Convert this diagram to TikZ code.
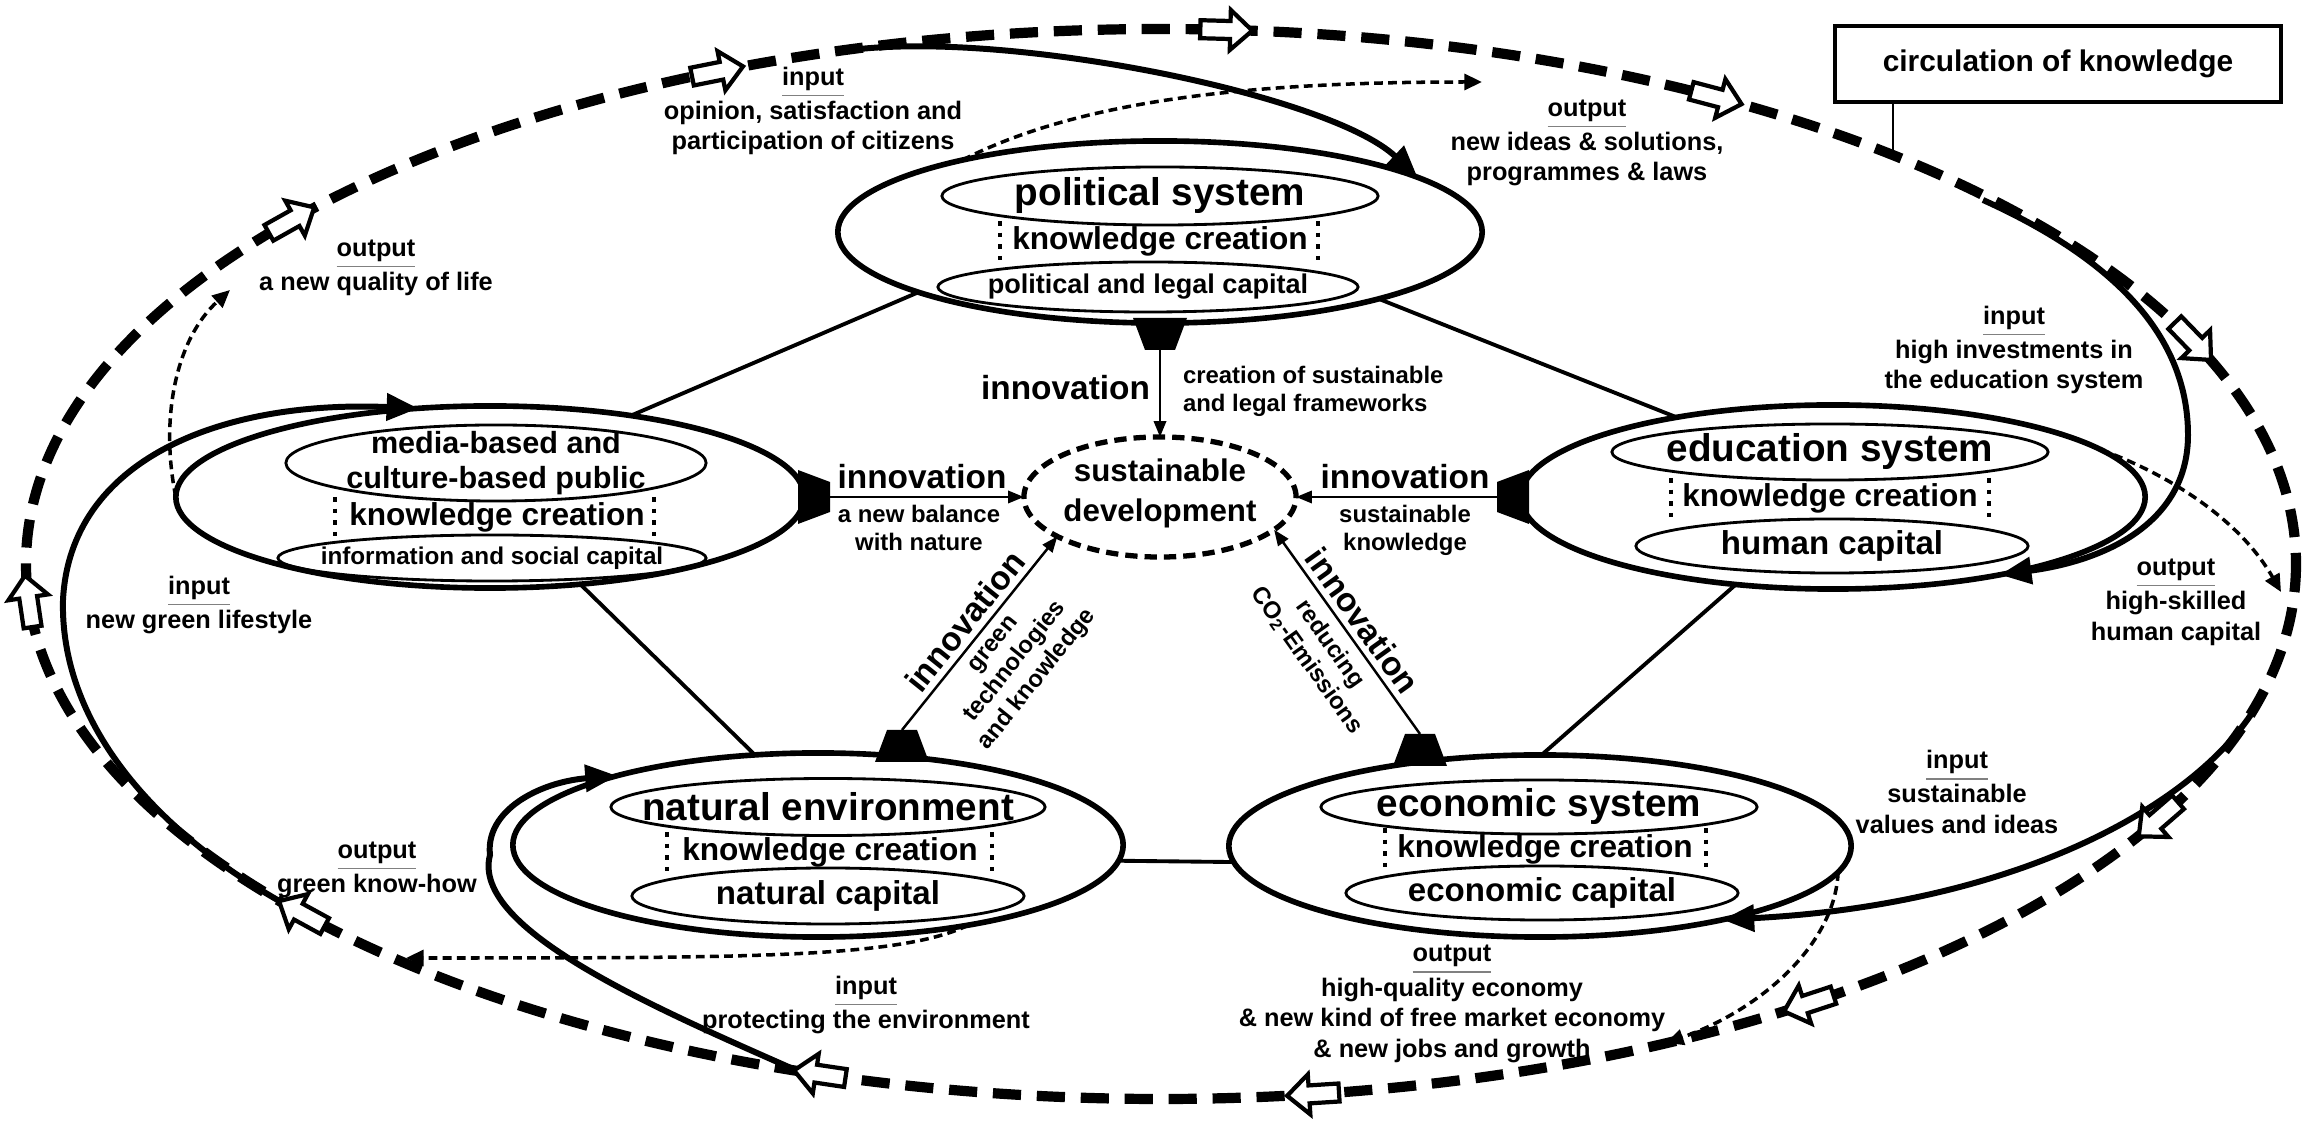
\documentclass[tikz,border=0pt]{standalone}
\usepackage{fontspec}
\setmainfont{Liberation Sans}
\usetikzlibrary{arrows.meta,shapes.geometric}
\newcommand\grayul[1]{{\color{gray}\underline{\color{black}#1}}}
\begin{document}
\begin{tikzpicture}[x=0.01cm,y=-0.01cm,
  every node/.style={inner sep=0pt,outer sep=0pt},
  sysouter/.style={ellipse,draw,line width=1.6pt},
  sysinner/.style={ellipse,draw,line width=0.8pt},
  ttl/.style={font=\bfseries\fontsize{11}{12}\selectfont},
  kc/.style={font=\bfseries\fontsize{9}{10}\selectfont},
  capS/.style={font=\bfseries\fontsize{7.7}{9}\selectfont},
  capXS/.style={font=\bfseries\fontsize{6.9}{8}\selectfont},
  capL/.style={font=\bfseries\fontsize{9.4}{10}\selectfont},
  lab/.style={font=\bfseries\fontsize{7.2}{8.7}\selectfont,align=center},
  inno/.style={font=\bfseries\fontsize{9.5}{10}\selectfont},
  smalltxt/.style={font=\bfseries\fontsize{6.8}{8}\selectfont,align=center},
  kbar/.style={line width=1.3pt,dash pattern=on 1.3pt off 2pt},
  conn/.style={line width=1.1pt},
  inarrow/.style={line width=1.7pt,-{Triangle[length=9pt,width=7.5pt]}},
  outarrow/.style={line width=1pt,dash pattern=on 2.5pt off 1.5pt,-{Triangle[length=5pt,width=4.5pt]}},
  inoarrow/.style={line width=0.7pt,-{Triangle[length=4.5pt,width=3.5pt]}},
  loopline/.style={line width=2.9pt,dash pattern=on 8pt off 4.5pt},
  hollow/.pic={\draw[line width=1.2pt,fill=white,line join=miter] (-26,-9) -- (4,-9) -- (4,-20) -- (26,0) -- (4,20) -- (4,9) -- (-26,9) -- cycle;},
  trap/.pic={\fill (-4,-27) -- (28,-15) -- (28,15) -- (-4,27) -- cycle;}
]
\useasboundingbox (0,0) rectangle (2305,1131);
\fill[white] (0,0) rectangle (2305,1131);

% ---------- circulation loop ----------
\draw[loopline] (1161,564) ellipse [x radius=1135, y radius=535];

% ---------- system nodes ----------
% political
\node[sysouter,minimum width=6.44cm,minimum height=1.82cm] (pol) at (1160,232) {};
\node[sysinner,minimum width=4.36cm,minimum height=0.58cm] (polA) at (1160,196) {};
\node[ttl] (polAt) at (1160,196) {political system};
\node[kc] (polK) at (1160,241) {knowledge creation};
\draw[kbar] (1000,221) -- (1000,262);
\draw[kbar] (1318,221) -- (1318,262);
\node[sysinner,minimum width=4.2cm,minimum height=0.5cm] (polB) at (1148,287) {};
\node[capS] (polBt) at (1148,287) {political and legal capital};

% media
\node[sysouter,minimum width=6.28cm,minimum height=1.82cm] (med) at (490,497) {};
\node[sysinner,minimum width=4.2cm,minimum height=0.76cm] (medA) at (496,463) {};
\node[font=\bfseries\fontsize{8.7}{9.8}\selectfont,align=center] (medAt) at (496,463) {media-based and\\culture-based public};
\node[kc] (medK) at (497,517) {knowledge creation};
\draw[kbar] (335,497) -- (335,538);
\draw[kbar] (654,497) -- (654,538);
\node[sysinner,minimum width=4.28cm,minimum height=0.46cm] (medB) at (492,558) {};
\node[capXS] (medBt) at (492,558) {information and social capital};

% education
\node[sysouter,minimum width=6.24cm,minimum height=1.84cm] (edu) at (1833,497) {};
\node[sysinner,minimum width=4.36cm,minimum height=0.56cm] (eduA) at (1830,452) {};
\node[ttl] (eduAt) at (1830,452) {education system};
\node[kc] (eduK) at (1830,498) {knowledge creation};
\draw[kbar] (1671,478) -- (1671,519);
\draw[kbar] (1989,478) -- (1989,519);
\node[sysinner,minimum width=3.92cm,minimum height=0.54cm] (eduB) at (1832,546) {};
\node[capL] (eduBt) at (1832,546) {human capital};

% natural
\node[sysouter,minimum width=6.1cm,minimum height=1.84cm] (nat) at (818,845) {};
\node[sysinner,minimum width=4.34cm,minimum height=0.57cm] (natA) at (828,807) {};
\node[ttl] (natAt) at (828,807) {natural environment};
\node[kc] (natK) at (830,852) {knowledge creation};
\draw[kbar] (667,832) -- (667,875);
\draw[kbar] (992,832) -- (992,875);
\node[sysinner,minimum width=3.92cm,minimum height=0.56cm] (natB) at (828,896) {};
\node[capL] (natBt) at (828,896) {natural capital};

% economic
\node[sysouter,minimum width=6.22cm,minimum height=1.82cm] (eco) at (1540,846) {};
\node[sysinner,minimum width=4.36cm,minimum height=0.54cm] (ecoA) at (1539,807) {};
\node[ttl] (ecoAt) at (1539,807) {economic system};
\node[kc] (ecoK) at (1545,849) {knowledge creation};
\draw[kbar] (1385,828) -- (1385,870);
\draw[kbar] (1706,828) -- (1706,870);
\node[sysinner,minimum width=3.92cm,minimum height=0.54cm] (ecoB) at (1542,893) {};
\node[capL] (ecoBt) at (1542,893) {economic capital};

% sustainable development
\node[ellipse,draw,line width=1.5pt,dash pattern=on 3.5pt off 2pt,minimum width=2.72cm,minimum height=1.2cm] (sd) at (1160,497) {};
\node[font=\bfseries\fontsize{8.9}{11.4}\selectfont,align=center] (sdt) at (1160,493) {sustainable\\development};

% ---------- connectors between systems ----------
\draw[conn] (pol.194) -- (med.30);
\draw[conn] (pol.-17) -- (edu.153);
\draw[conn] (med.-44) -- (nat.125);
\draw[conn] (edu.222) -- (eco.89);
\draw[conn] (nat.-3) -- (eco.183);

% ---------- innovation ----------
\pic[rotate=-90] at (1160,322) {trap};
\pic at (802,497) {trap};
\pic[rotate=180] at (1525,497) {trap};
\pic[rotate=90] at (902,758) {trap};
\pic[rotate=90] at (1420,762) {trap};
\coordinate (polI) at (1160,350);
\coordinate (medI) at (830,497);
\coordinate (eduI) at (1497,497);
\coordinate (natI) at (902,730);
\coordinate (ecoI) at (1420,734);
\draw[inoarrow] (polI) -- (sd.north);
\draw[inoarrow] (medI) -- (sd.west);
\draw[inoarrow] (eduI) -- (sd.east);
\draw[inoarrow] (natI) -- (sd.-159);
\draw[inoarrow] (ecoI) -- (sd.-16);

\node[inno,anchor=east] (polInno) at (1150,388) {innovation};
\node[smalltxt,anchor=west,align=left] (polSm) at (1183,391) {creation of sustainable\\and legal frameworks};
\node[inno,anchor=south] (medInno) at (922,489) {innovation};
\node[smalltxt,anchor=north] (medSm) at (919,505) {a new balance\\with nature};
\node[inno,anchor=south] (eduInno) at (1405,489) {innovation};
\node[smalltxt,anchor=north] (eduSm) at (1405,505) {sustainable\\knowledge};
\path (natI) -- (sd.-159)
  node[midway,sloped,above=2pt,inno] (natInno) {innovation}
  node[midway,sloped,below=3pt,smalltxt] (natSm) {green\\technologies\\and knowledge};
\path (sd.-16) -- (ecoI)
  node[midway,sloped,above=2pt,inno] (ecoInno) {innovation}
  node[midway,sloped,below=3pt,smalltxt] (ecoSm) {reducing\\CO\textsubscript{2}-Emissions};

% ---------- input curves (solid) ----------
\coordinate (pInS) at (851,50);
\coordinate (eInS) at (1983,200);
\coordinate (cInS) at (2254,710);
\coordinate (nInS) at (800,1072);
\coordinate (mInS) at (290,907);
\draw[inarrow] (pInS) .. controls (1010,30) and (1330,95) .. (pol.12);
\draw[inarrow] (eInS) .. controls (2105,255) and (2188,330) .. (2188,435) .. controls (2188,520) and (2110,560) .. (edu.-25);
\draw[inarrow] (cInS) .. controls (2190,810) and (2010,905) .. (eco.-22);
\draw[inarrow] (nInS) .. controls (660,1010) and (470,930) .. (490,855) .. controls (485,810) and (540,782) .. (nat.161);
\draw[inarrow] (mInS) .. controls (150,830) and (60,720) .. (63,600) .. controls (70,460) and (220,400) .. (med.129);

% ---------- output curves (dashed) ----------
\coordinate (pOutE) at (1482,82);
\coordinate (eOutE) at (2281,592);
\coordinate (cOutE) at (1666,1043);
\coordinate (nOutE) at (406,958);
\coordinate (mOutE) at (230,290);
\draw[outarrow] (pol.160) .. controls (1080,100) and (1250,82) .. (pOutE);
\draw[outarrow] (edu.10) .. controls (2170,475) and (2240,520) .. (eOutE);
\draw[outarrow] (eco.-5) .. controls (1835,945) and (1760,1010) .. (cOutE);
\draw[outarrow] (nat.-28) .. controls (900,958) and (750,958) .. (nOutE);
\draw[outarrow] (med.west) .. controls (160,420) and (175,340) .. (mOutE);

% ---------- hollow arrows on the loop ----------
\foreach \t in {113,86.7,60.7,24.6,-28.5,-55.2,-82.3,-107.5,-139.2,-176,140}{
  \pgfmathsetmacro\ax{1161+1135*cos(\t)}
  \pgfmathsetmacro\ay{564-535*sin(\t)}
  \pgfmathsetmacro\aa{atan2(-535*cos(\t),1135*sin(\t))}
  \pic[rotate=\aa] at (\ax,\ay) {hollow};
}

% ---------- labels ----------
\node[lab] (l1) at (813,111) {\grayul{input}\\opinion, satisfaction and\\participation of citizens};
\node[lab] (l2) at (1587,143) {\grayul{output}\\new ideas \& solutions,\\programmes \& laws};
\node[lab] (l3) at (2014,350) {\grayul{input}\\high investments in\\the education system};
\node[lab] (l4) at (2176,602) {\grayul{output}\\high-skilled\\human capital};
\node[lab] (l5) at (1957,792) {\grayul{input}\\sustainable\\values and ideas};
\node[lab] (l6) at (1452,1004) {\grayul{output}\\high-quality economy\\\& new kind of free market economy\\\& new jobs and growth};
\node[lab] (l7) at (866,1005) {\grayul{input}\\protecting the environment};
\node[lab] (l8) at (377,870) {\grayul{output}\\green know-how};
\node[lab] (l9) at (199,605) {\grayul{input}\\new green lifestyle};
\node[lab] (l10) at (376,268) {\grayul{output}\\a new quality of life};

% ---------- circulation of knowledge ----------
\node[draw,line width=1.2pt,minimum width=4.45cm,minimum height=0.76cm,font=\bfseries\fontsize{8.5}{10}\selectfont] (circ) at (2058,64) {circulation of knowledge};
\coordinate (circPt) at (1893,155);
\draw[line width=0.8pt] (circ.south -| circPt) -- (circPt);
\end{tikzpicture}
\end{document}
